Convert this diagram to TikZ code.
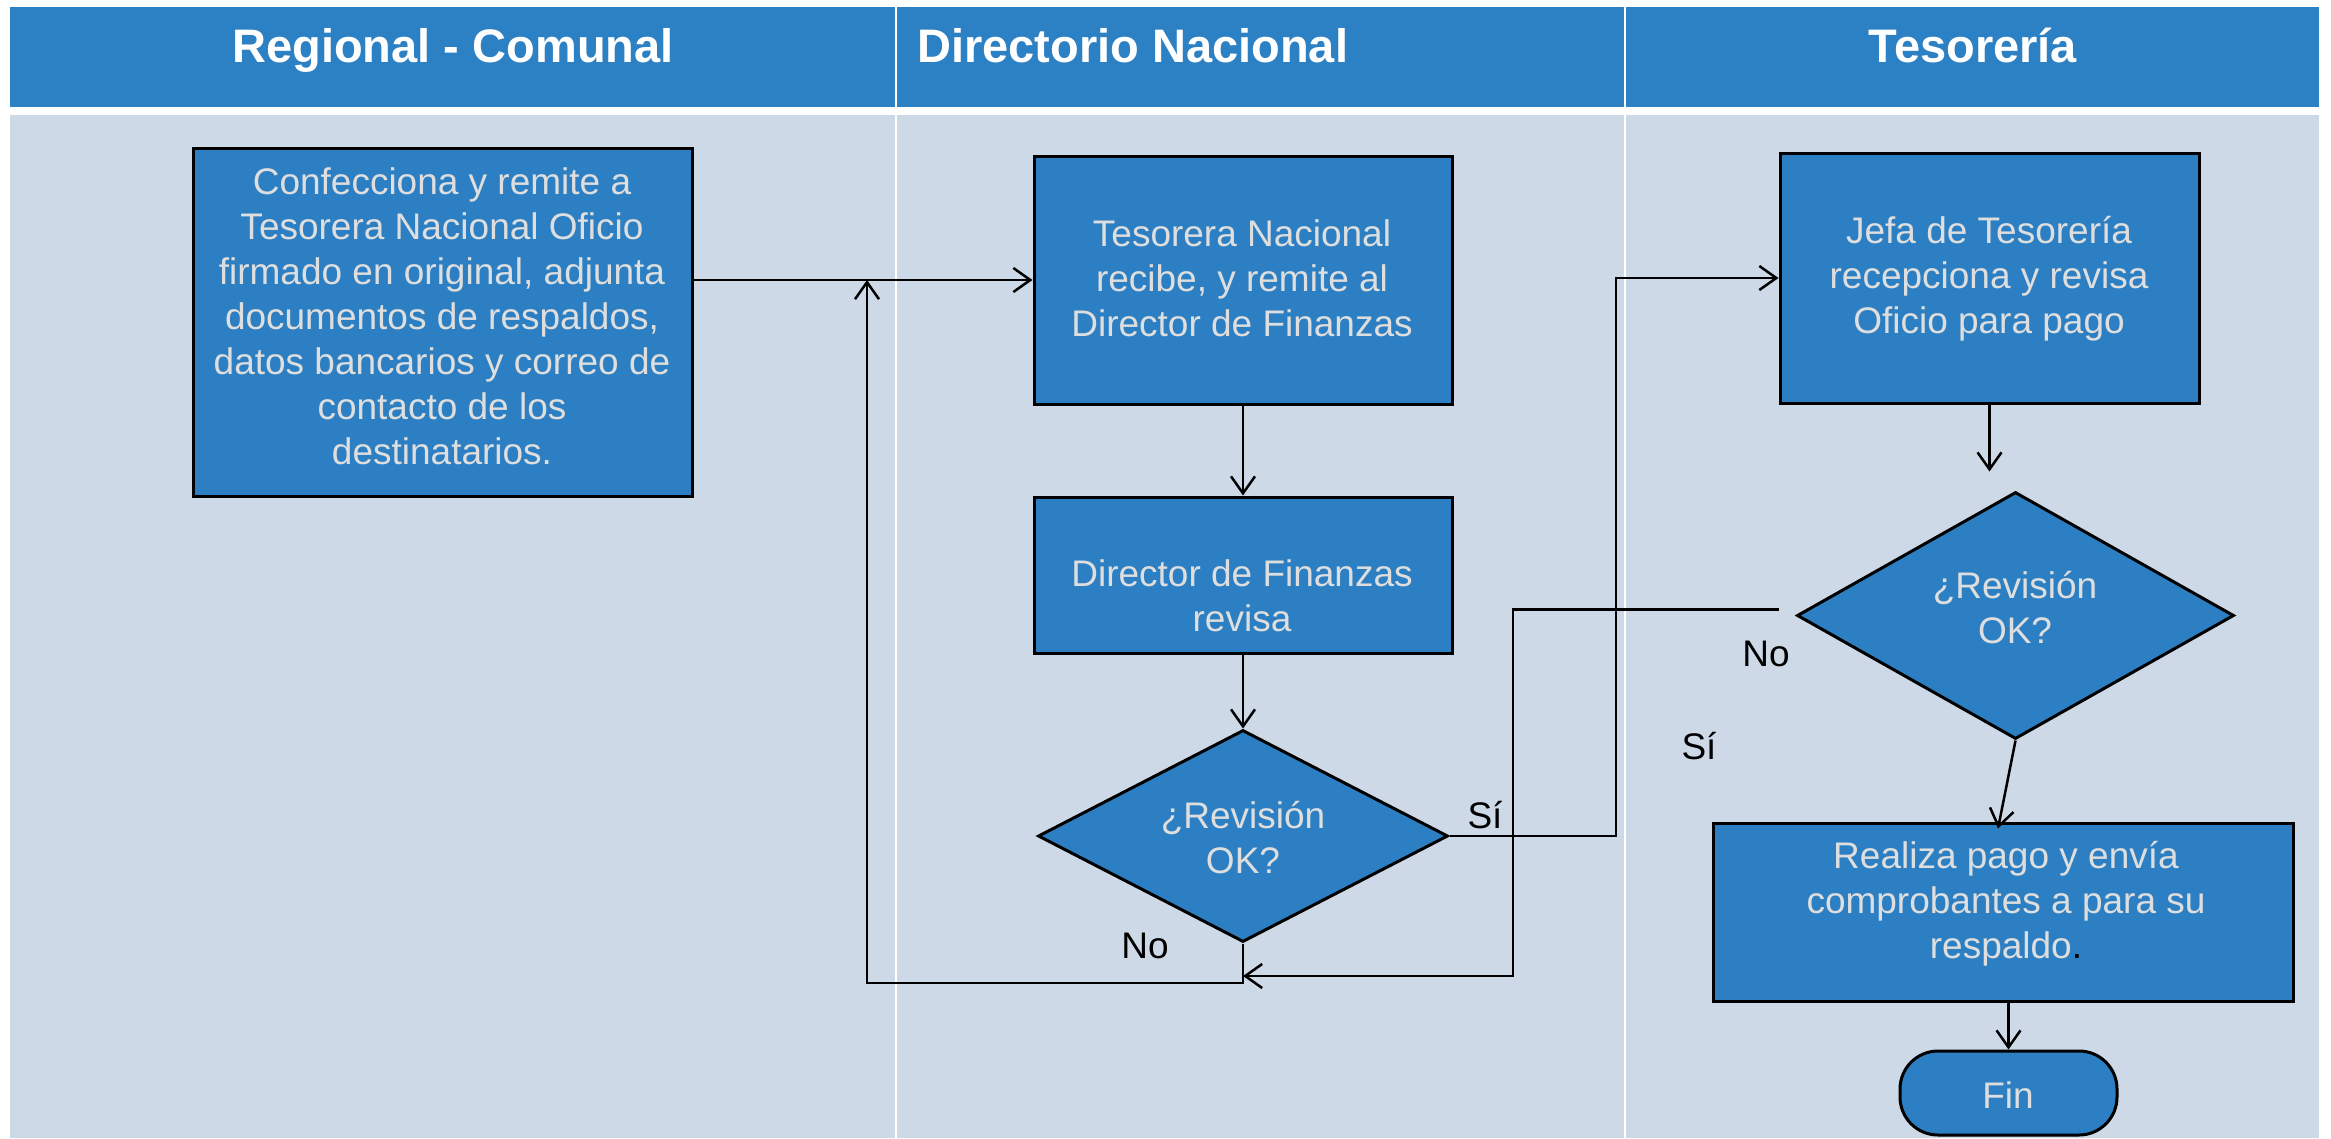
\documentclass[tikz,border=0pt]{standalone}
\usepackage{fontspec}
\setmainfont{Liberation Sans}
\usetikzlibrary{arrows.meta,shapes.geometric,calc}
\definecolor{hdrblue}{RGB}{44,128,196}
\definecolor{boxblue}{RGB}{44,127,194}
\definecolor{bodybg}{RGB}{206,217,232}
\definecolor{boxtxt}{RGB}{222,222,222}
\begin{document}
\begin{tikzpicture}[x=1pt,y=-1pt,
  procbox/.style={rectangle,draw=black,line width=3pt,fill=boxblue,inner sep=0pt},
  decbox/.style={diamond,draw=black,line width=3pt,fill=boxblue,inner sep=0pt},
  termbox/.style={rectangle,rounded corners=38pt,draw=black,line width=3pt,fill=boxblue,inner sep=0pt},
  boxtext/.style={text=boxtxt,align=center,anchor=base,inner sep=0pt,font=\fontsize{37}{45}\selectfont},
  lbl/.style={text=black,anchor=base,inner sep=0pt,font=\fontsize{37}{45}\selectfont},
  hdrtext/.style={text=white,anchor=base,inner sep=0pt,font=\fontsize{47}{56}\selectfont\bfseries},
  conn/.style={draw=black,line width=2.5pt,-{Straight Barb[length=17pt,width=24pt]}},
  plainline/.style={draw=black,line width=2.5pt}
]
% canvas
\fill[white] (0,0) rectangle (2331,1138);
\useasboundingbox (0,0) rectangle (2331,1138);
\fill[hdrblue] (10,7) rectangle (2319,107);
\fill[bodybg] (10,115) rectangle (2319,1138);
\draw[white,line width=2.5pt] (896,7) -- (896,1138);
\draw[white,line width=2.5pt] (1625,7) -- (1625,1138);

% headers
\node[hdrtext] (h1) at (453,62) {Regional - Comunal};
\node[hdrtext,anchor=base west] (h2) at (917,62) {Directorio Nacional};
\node[hdrtext] (h3) at (1973,62) {Tesorería};

% shapes
\node[procbox,minimum width=499pt,minimum height=348pt] (b1) at (442.5,322) {};
\node[procbox,minimum width=418pt,minimum height=248pt] (b2) at (1243,280) {};
\node[procbox,minimum width=418pt,minimum height=156pt] (b3) at (1243,575) {};
\node[decbox,minimum width=410pt,minimum height=212pt] (d1) at (1243,836) {};
\node[procbox,minimum width=419pt,minimum height=250pt] (b4) at (1989.5,278) {};
\node[decbox,minimum width=437pt,minimum height=247pt] (d2) at (2015.5,615.5) {};
\node[procbox,minimum width=580pt,minimum height=178pt] (b5) at (2003,912) {};
\node[termbox,minimum width=217pt,minimum height=84pt] (fin) at (2008.5,1093) {};

% texts (anchor = baseline of the last line)
\node[boxtext] (t1) at (442,464) {Confecciona y remite a\\Tesorera Nacional Oficio\\firmado en original, adjunta\\documentos de respaldos,\\datos bancarios y correo de\\contacto de los\\destinatarios.};
\node[boxtext] (t2) at (1242,336) {Tesorera Nacional\\recibe, y remite al\\Director de Finanzas};
\node[boxtext] (t3) at (1242,631) {Director de Finanzas\\revisa};
\node[boxtext] (t4) at (1243,873) {¿Revisión\\OK?};
\node[boxtext] (t5) at (1989,333) {Jefa de Tesorería\\recepciona y revisa\\Oficio para pago};
\node[boxtext] (t6) at (2015,643) {¿Revisión\\OK?};
\node[boxtext] (t7) at (2006,958) {Realiza pago y envía\\comprobantes a para su\\respaldo\textcolor{black}{.}};
\node[boxtext] (t8) at (2008,1108) {Fin};

% labels
\node[lbl] (lno1) at (1145,958) {No};
\node[lbl] (lsi1) at (1485,828) {Sí};
\node[lbl] (lno2) at (1766,666) {No};
\node[lbl] (lsi2) at (1699,759) {Sí};

% helper coordinates
\coordinate (loopL) at (867,983);
\coordinate (siX) at (1616,0);
\coordinate (noA) at ([xshift=-17pt,yshift=6pt]d2.west);
\coordinate (noB) at (1513,976);
\coordinate (j2) at ([yshift=-67pt]b4.south);
\coordinate (b5tip) at ([xshift=-5pt,yshift=-7pt]b5.north);

% connectors
\draw[conn] (b1.east |- b2.west) -- (b2.west);
\draw[conn] (b2.south) -- (b3.north);
\draw[conn] (b3.south) -- (d1.north);
\draw[conn] (d1.south) |- (loopL) -- (loopL |- b2.west);
\draw[conn] (d1.east) -| (siX |- b4.west) -- (b4.west);
\draw[conn] (b4.south) -- (j2);
\draw[conn] (noA) -| (noB) -- (noB -| d1.south);
\draw[conn] (d2.south) -- (b5tip);
\draw[conn] (fin.north |- b5.south) -- (fin.north);
\end{tikzpicture}
\end{document}
